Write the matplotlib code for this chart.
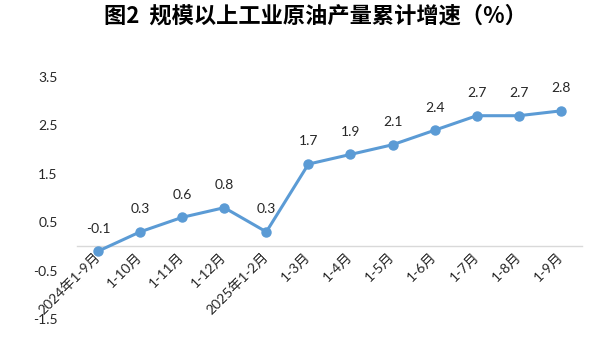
import matplotlib.pyplot as plt

plt.rcParams['font.family'] = ['Lato', 'Noto Sans CJK SC', 'DejaVu Sans']

months = ['2024年1-9月', '1-10月', '1-11月', '1-12月', '2025年1-2月', '1-3月',
          '1-4月', '1-5月', '1-6月', '1-7月', '1-8月', '1-9月']
growth = [-0.1, 0.3, 0.6, 0.8, 0.3, 1.7, 1.9, 2.1, 2.4, 2.7, 2.7, 2.8]
yticks = [-1.5, -0.5, 0.5, 1.5, 2.5, 3.5]

fig = plt.figure(figsize=(5.92, 3.44), dpi=100)
ax = fig.add_axes([0.13, 0.0727, 0.853, 0.7035])

# zero line as the category axis (set before tick labels, it resets ticks)
for s in ['top', 'right', 'left']:
    ax.spines[s].set_visible(False)
ax.spines['bottom'].set_position(('data', 0))
ax.spines['bottom'].set_color('#D9D9D9')
ax.spines['bottom'].set_linewidth(1)

x = list(range(len(months)))
ax.plot(x, growth, color='#5B9BD5', lw=2.2, marker='o', ms=6.5, zorder=3)
for xi, v in zip(x, growth):
    ax.annotate(f'{v:.1f}', (xi, v), xytext=(0, 12), textcoords='offset points',
                ha='center', va='bottom', fontsize=10, color='#262626')

ax.set_xlim(-0.5, len(months) - 0.5)
ax.set_ylim(-1.5, 3.5)
ax.set_yticks(yticks)
ax.set_yticklabels([f'{t:.1f}' for t in yticks], fontsize=10, color='#262626')
ax.set_xticks(x)
ax.set_xticklabels(months, fontsize=10, color='#262626')
for lab in ax.get_xticklabels():
    lab.set_rotation(45)
    lab.set_ha('right')
    lab.set_va('center')
    lab.set_rotation_mode('anchor')
ax.tick_params(axis='both', length=0)
ax.tick_params(axis='y', pad=14)
ax.tick_params(axis='x', pad=6)

fig.text(0.533, 0.952, '图2  规模以上工业原油产量累计增速（%）', ha='center', va='center',
         fontsize=16, fontweight='bold', family=['Noto Sans CJK SC'])

fig.savefig('out.png', dpi=100)
